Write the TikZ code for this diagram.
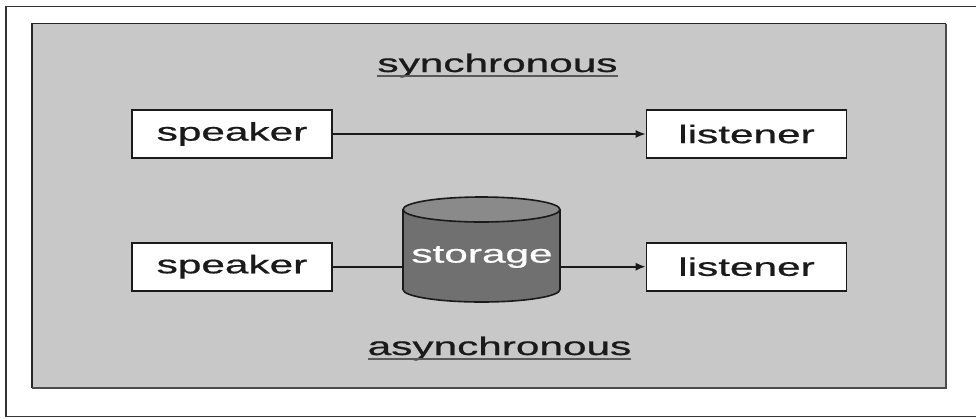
\documentclass[tikz,border=0pt]{standalone}
\usepackage{graphicx}
\usepackage{fontspec}
\setmainfont{Liberation Sans}
\newfontfamily\heavysans{Liberation Sans}[FakeBold=0.6]
\usetikzlibrary{arrows.meta}
\definecolor{panelgray}{HTML}{C8C8C8}
\definecolor{bodygray}{HTML}{707070}
\definecolor{topgray}{HTML}{8A8A8A}
\definecolor{inkblack}{HTML}{1A1A1A}
\newcommand\widetext[1]{\scalebox{1.66}[1]{\heavysans #1}}
\tikzset{
  textbox/.style={draw=inkblack, line width=1.6pt, fill=white, minimum width=200pt, minimum height=48pt, inner sep=0pt, text=inkblack, font=\fontsize{25.5}{30}\selectfont},
  heading/.style={inner sep=0pt, anchor=base, text=inkblack, font=\fontsize{25.5}{30}\selectfont},
  link/.style={draw=inkblack, line width=1.7pt},
  tip/.style={-{Latex[length=10pt,width=8pt]}}
}
\begin{document}
\begin{tikzpicture}[x=1pt,y=-1pt]
\useasboundingbox (0,0) rectangle (976,418);
% outer frame
\draw[line width=1.5pt, color=black!80] (976,6.5) -- (6,6.5) -- (6,416.5) -- (976,416.5);
% panel
\fill[panelgray] (32,23.5) rectangle (946,388);
\draw[line width=1.5pt, color=black!85] (32,388) -- (32,23.5) -- (946,23.5);
\draw[line width=2.6pt, color=black!70] (946,23.5) -- (946,388) -- (32,388);
% headings
\node[heading] (syn) at (497.5,72) {\widetext{synchronous}};
\draw[line width=1.6pt, color=black!65] ([yshift=-4pt]syn.base west) -- ([yshift=-4pt]syn.base east);
\node[heading] (asyn) at (499.5,355) {\widetext{asynchronous}};
\draw[line width=1.6pt, color=black!65] ([yshift=-4pt]asyn.base west) -- ([yshift=-4pt]asyn.base east);
% boxes
\node[textbox] (spk1) at (232,134) {\widetext{speaker}};
\node[textbox] (lis1) at (746.5,134) {\widetext{listener}};
\node[textbox] (spk2) at (232,266.7) {\widetext{speaker}};
\node[textbox] (lis2) at (746.5,266.7) {\widetext{listener}};
% storage cylinder
\fill[bodygray, draw=inkblack, line width=1.6pt] (481.5,289.5) ellipse [x radius=78.5, y radius=12.5];
\fill[bodygray] (403,209.5) rectangle (560,289.5);
\draw[inkblack, line width=1.6pt] (403,209.5) -- (403,289.5) (560,209.5) -- (560,289.5);
\filldraw[fill=topgray, draw=inkblack, line width=1.6pt] (481.5,209.5) ellipse [x radius=78.5, y radius=12.5];
\node[inner sep=0pt, minimum width=157pt, minimum height=105pt] (storage) at (481.5,249.5) {};
\node[inner sep=0pt, text=white, font=\fontsize{25.5}{30}\selectfont] (storagelabel) at (482,257) {\widetext{storage}};
% connectors
\draw[link, tip] (spk1.east) -- (lis1.west);
\draw[link] (spk2.east) -- (spk2.east -| storage.west);
\draw[link, tip] (spk2.east -| storage.east) -- (lis2.west);
\end{tikzpicture}
\end{document}
